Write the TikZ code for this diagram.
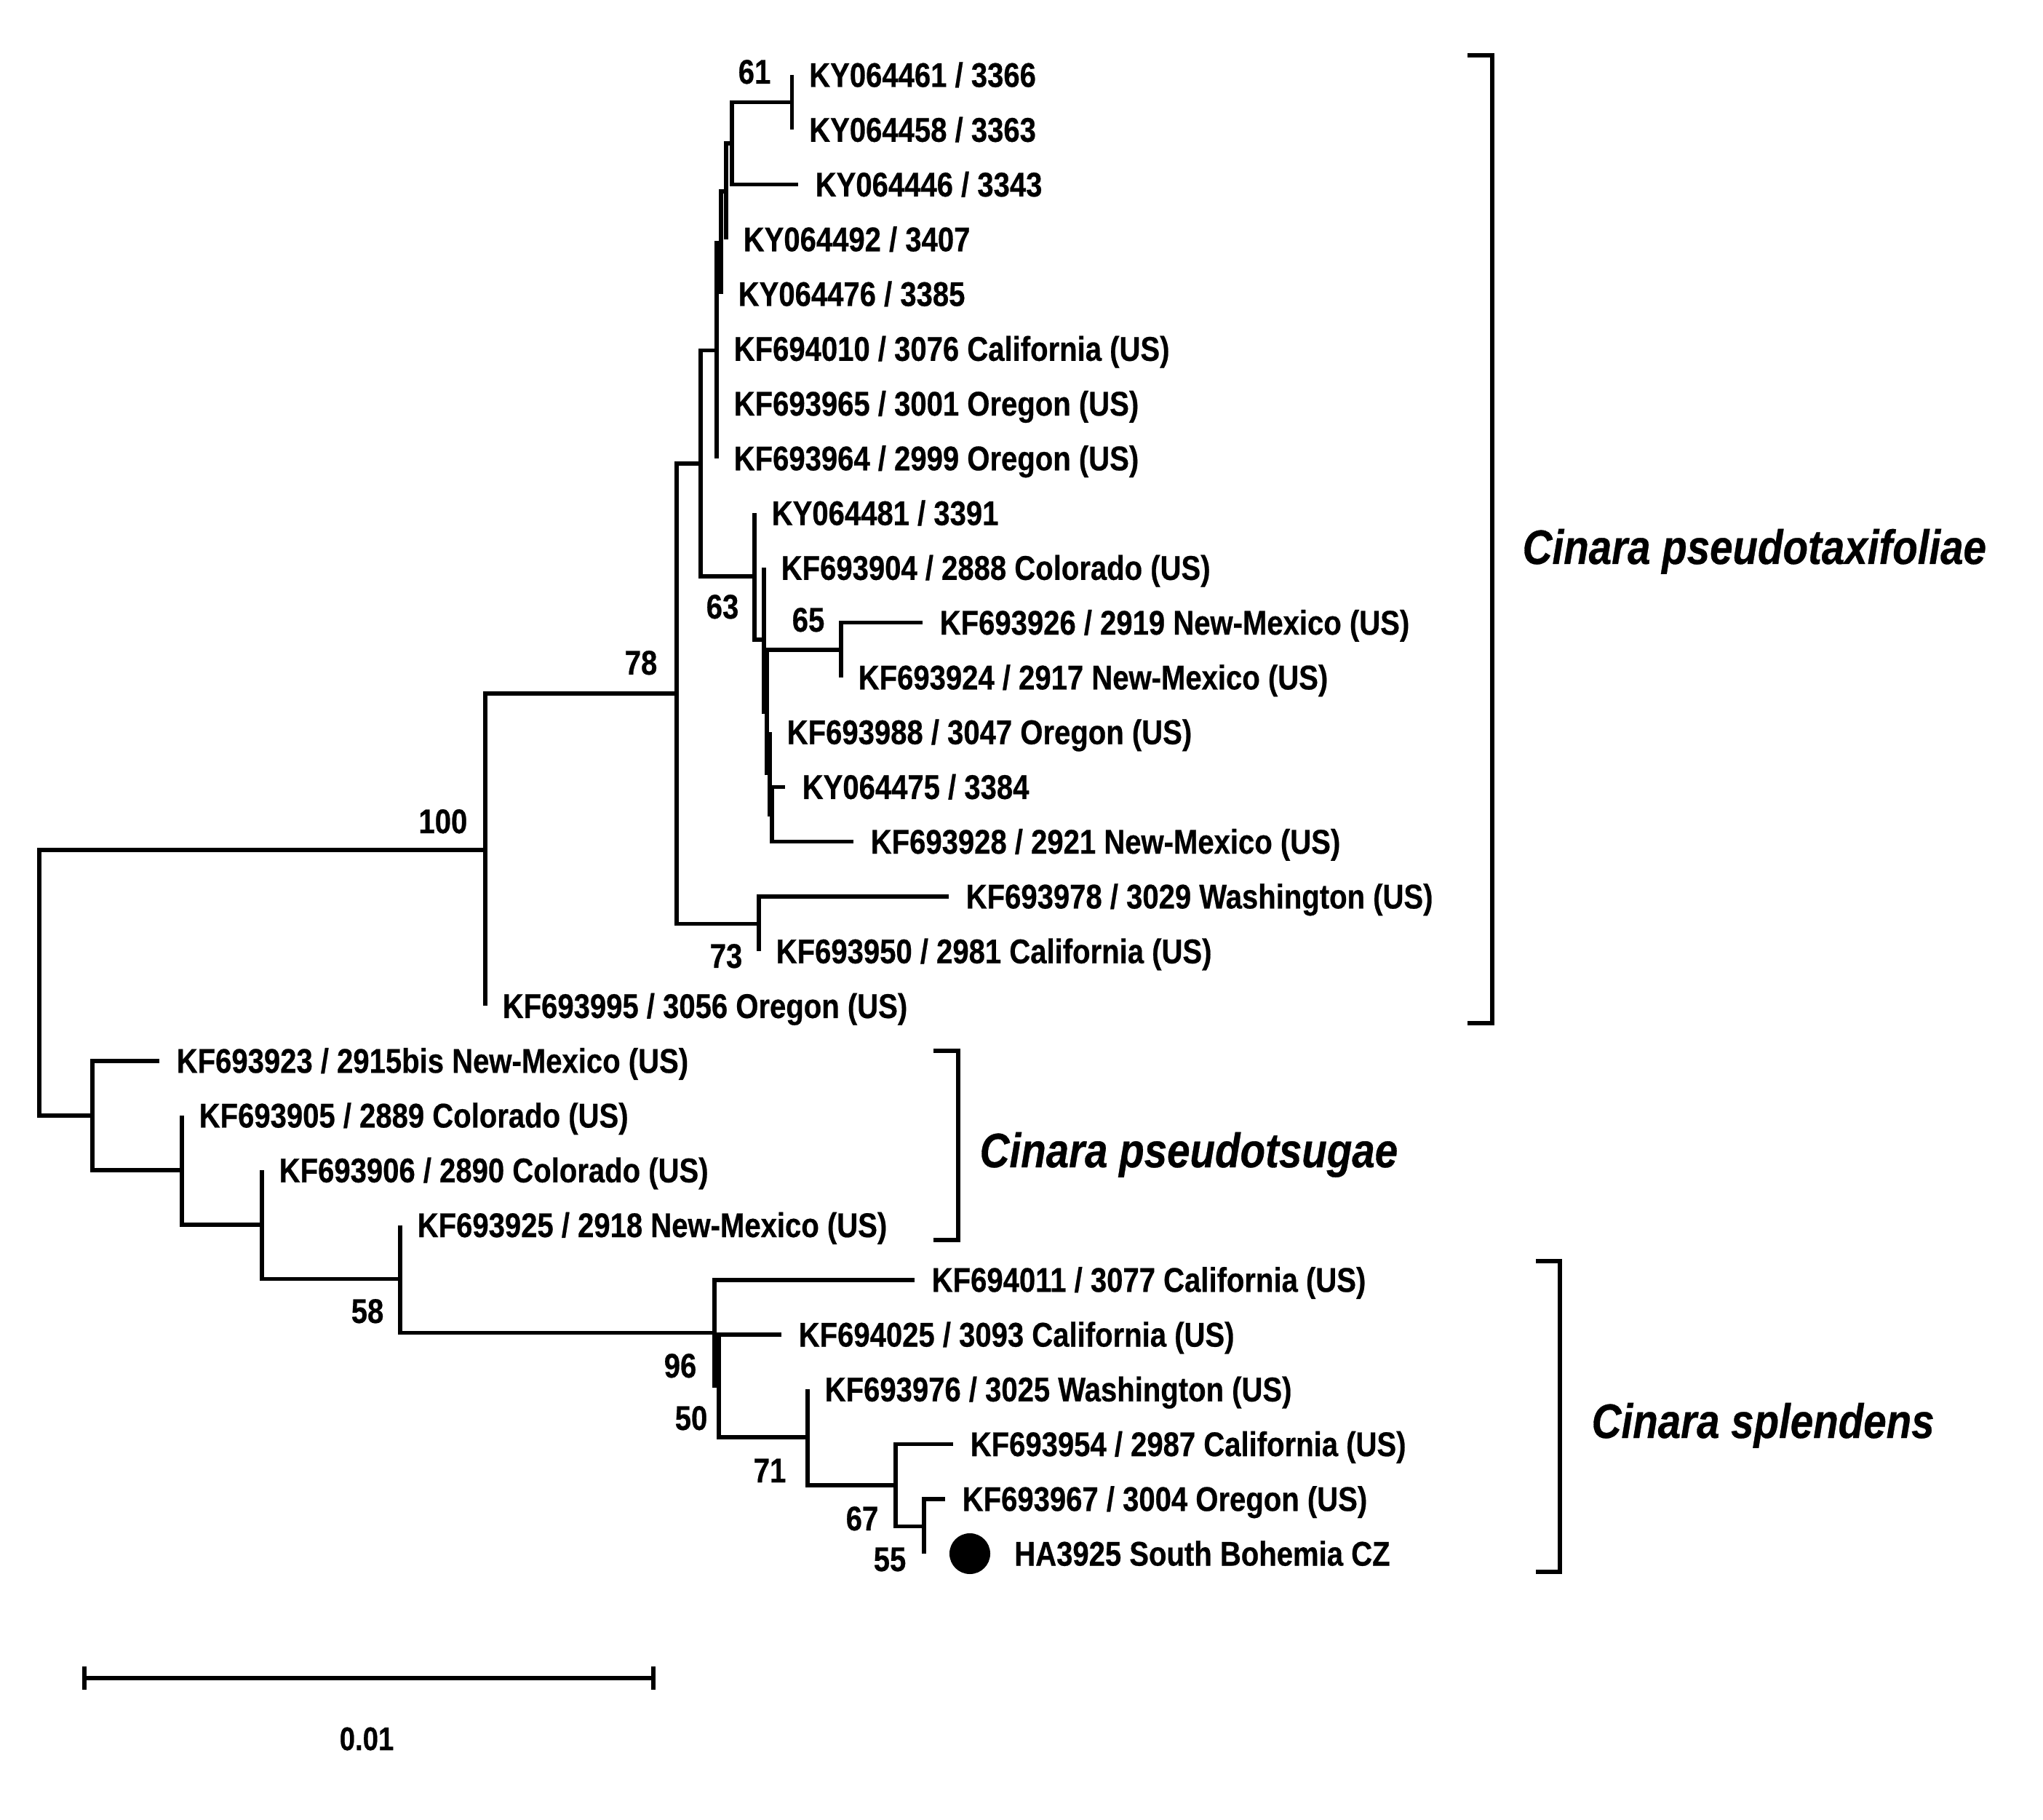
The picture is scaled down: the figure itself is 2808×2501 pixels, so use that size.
\documentclass[tikz,border=0pt]{standalone}
\usepackage{fontspec}
\newfontfamily\labfont{Liberation Sans}[FakeStretch=0.85, BoldFeatures={FakeBold=0.5}, BoldItalicFeatures={FakeBold=0.5}]
\begin{document}
\begin{tikzpicture}[x=0.01cm, y=-0.01cm,
  br/.style={line width=0.056cm, line join=miter},
  brk/.style={line width=0.062cm, line join=miter},
  leaf/.style={anchor=base west, inner sep=0pt, font=\labfont\bfseries\fontsize{13.4}{16}\selectfont},
  bs/.style={anchor=base east, inner sep=0pt, font=\labfont\bfseries\fontsize{13.4}{16}\selectfont},
  clade/.style={anchor=base west, inner sep=0pt, font=\labfont\bfseries\itshape\fontsize{18.9}{22}\selectfont},
  scl/.style={anchor=base, inner sep=0pt, font=\labfont\bfseries\fontsize{12.8}{15}\selectfont},
  dotnode/.style={circle, fill=black, inner sep=0pt, minimum size=0.56cm}]
\fill[white] (0,0) rectangle (2808,2501);
\useasboundingbox (0,0) rectangle (2808,2501);
% tips
\coordinate (t1) at (1088.5,103.0);
\coordinate (t2) at (1088.5,178.3);
\coordinate (t3) at (1097,253.5);
\coordinate (t4) at (998,328.8);
\coordinate (t5) at (991,404.0);
\coordinate (t6) at (985,479.3);
\coordinate (t7) at (985,554.6);
\coordinate (t8) at (985,629.8);
\coordinate (t9) at (1037,705.1);
\coordinate (t10) at (1050,780.3);
\coordinate (t11) at (1268,855.6);
\coordinate (t12) at (1156,930.9);
\coordinate (t13) at (1058,1006.1);
\coordinate (t14) at (1079,1081.4);
\coordinate (t15) at (1173,1156.6);
\coordinate (t16) at (1304,1231.9);
\coordinate (t17) at (1043,1307.2);
\coordinate (t18) at (667,1382.4);
\coordinate (t19) at (219,1457.7);
\coordinate (t20) at (250,1532.9);
\coordinate (t21) at (360,1608.2);
\coordinate (t22) at (550,1683.5);
\coordinate (t23) at (1257,1758.7);
\coordinate (t24) at (1074,1834.0);
\coordinate (t25) at (1110,1909.2);
\coordinate (t26) at (1310,1984.5);
\coordinate (t27) at (1299,2059.8);
\coordinate (t28) at (1270,2135.0);
% internal nodes
\coordinate (n61) at (1088.5,140.65);
\coordinate (nE) at (1006,197.1);
\coordinate (nF) at (998,262.95);
\coordinate (nG) at (991,333.5);
\coordinate (nD) at (985,481.6);
\coordinate (n65) at (1156,893.25);
\coordinate (nK) at (1061,1119.0);
\coordinate (nJ) at (1058,1062.55);
\coordinate (nI2) at (1054,977.9);
\coordinate (nI) at (1050,879.1);
\coordinate (nH) at (1037,792.1);
\coordinate (nC) at (963,636.85);
\coordinate (n73) at (1043,1269.55);
\coordinate (n78) at (930,953.2);
\coordinate (n100) at (667,1167.8);
\coordinate (nS) at (1270,2097.4);
\coordinate (nR) at (1231,2040.95);
\coordinate (nQ) at (1110,1975.1);
\coordinate (nP) at (988,1904.55);
\coordinate (nO) at (982,1831.6);
\coordinate (n58) at (550,1757.6);
\coordinate (nN) at (360,1682.9);
\coordinate (nM) at (250,1607.9);
\coordinate (nL) at (127,1532.8);
\coordinate (root) at (54,1350.3);
% branches
\draw[br] (t1) -| (n61) |- (t2);
\draw[br] (n61) -| (nE) |- (t3);
\draw[br] (nE) -| (nF) |- (t4);
\draw[br] (nF) -| (nG) |- (t5);
\draw[br] (nG) -| (nD) |- (t8);
\draw[br] (t6) -- (nD |- t6);
\draw[br] (t7) -- (nD |- t7);
\draw[br] (nD) -| (nC) |- (nH);
\draw[br] (t9) -| (nH) |- (nI);
\draw[br] (t10) -| (nI) |- (nI2);
\draw[br] (n65) -| (nI2) |- (nJ);
\draw[br] (t11) -| (n65) |- (t12);
\draw[br] (t13) -| (nJ) |- (nK);
\draw[br] (t14) -| (nK) |- (t15);
\draw[br] (nC) -| (n78) |- (n73);
\draw[br] (t16) -| (n73) |- (t17);
\draw[br] (n78) -| (n100) |- (t18);
\draw[br] (n100) -| (root) |- (nL);
\draw[br] (t19) -| (nL) |- (nM);
\draw[br] (t20) -| (nM) |- (nN);
\draw[br] (t21) -| (nN) |- (n58);
\draw[br] (t22) -| (n58) |- (nO);
\draw[br] (t23) -| (nO) |- (nP);
\draw[br] (t24) -| (nP) |- (nQ);
\draw[br] (t25) -| (nQ) |- (nR);
\draw[br] (t26) -| (nR) |- (nS);
\draw[br] (t27) -| (nS) |- (t28);
% leaf labels
\node[leaf] (L1) at ([xshift=0.23cm,yshift=-0.165cm]t1) {KY064461 / 3366};
\node[leaf] (L2) at ([xshift=0.23cm,yshift=-0.165cm]t2) {KY064458 / 3363};
\node[leaf] (L3) at ([xshift=0.23cm,yshift=-0.165cm]t3) {KY064446 / 3343};
\node[leaf] (L4) at ([xshift=0.23cm,yshift=-0.165cm]t4) {KY064492 / 3407};
\node[leaf] (L5) at ([xshift=0.23cm,yshift=-0.165cm]t5) {KY064476 / 3385};
\node[leaf] (L6) at ([xshift=0.23cm,yshift=-0.165cm]t6) {KF694010 / 3076 California (US)};
\node[leaf] (L7) at ([xshift=0.23cm,yshift=-0.165cm]t7) {KF693965 / 3001 Oregon (US)};
\node[leaf] (L8) at ([xshift=0.23cm,yshift=-0.165cm]t8) {KF693964 / 2999 Oregon (US)};
\node[leaf] (L9) at ([xshift=0.23cm,yshift=-0.165cm]t9) {KY064481 / 3391};
\node[leaf] (L10) at ([xshift=0.23cm,yshift=-0.165cm]t10) {KF693904 / 2888 Colorado (US)};
\node[leaf] (L11) at ([xshift=0.23cm,yshift=-0.165cm]t11) {KF693926 / 2919 New-Mexico (US)};
\node[leaf] (L12) at ([xshift=0.23cm,yshift=-0.165cm]t12) {KF693924 / 2917 New-Mexico (US)};
\node[leaf] (L13) at ([xshift=0.23cm,yshift=-0.165cm]t13) {KF693988 / 3047 Oregon (US)};
\node[leaf] (L14) at ([xshift=0.23cm,yshift=-0.165cm]t14) {KY064475 / 3384};
\node[leaf] (L15) at ([xshift=0.23cm,yshift=-0.165cm]t15) {KF693928 / 2921 New-Mexico (US)};
\node[leaf] (L16) at ([xshift=0.23cm,yshift=-0.165cm]t16) {KF693978 / 3029 Washington (US)};
\node[leaf] (L17) at ([xshift=0.23cm,yshift=-0.165cm]t17) {KF693950 / 2981 California (US)};
\node[leaf] (L18) at ([xshift=0.23cm,yshift=-0.165cm]t18) {KF693995 / 3056 Oregon (US)};
\node[leaf] (L19) at ([xshift=0.23cm,yshift=-0.165cm]t19) {KF693923 / 2915bis New-Mexico (US)};
\node[leaf] (L20) at ([xshift=0.23cm,yshift=-0.165cm]t20) {KF693905 / 2889 Colorado (US)};
\node[leaf] (L21) at ([xshift=0.23cm,yshift=-0.165cm]t21) {KF693906 / 2890 Colorado (US)};
\node[leaf] (L22) at ([xshift=0.23cm,yshift=-0.165cm]t22) {KF693925 / 2918 New-Mexico (US)};
\node[leaf] (L23) at ([xshift=0.23cm,yshift=-0.165cm]t23) {KF694011 / 3077 California (US)};
\node[leaf] (L24) at ([xshift=0.23cm,yshift=-0.165cm]t24) {KF694025 / 3093 California (US)};
\node[leaf] (L25) at ([xshift=0.23cm,yshift=-0.165cm]t25) {KF693976 / 3025 Washington (US)};
\node[leaf] (L26) at ([xshift=0.23cm,yshift=-0.165cm]t26) {KF693954 / 2987 California (US)};
\node[leaf] (L27) at ([xshift=0.23cm,yshift=-0.165cm]t27) {KF693967 / 3004 Oregon (US)};
\node[dotnode] (dot) at (1333,2135) {};
\node[leaf] (L28) at ([xshift=1.235cm,yshift=-0.165cm]t28) {HA3925 South Bohemia CZ};
% bootstrap values
\node[bs] (b61) at (1060,115) {61};
\node[bs] (b78) at (904,927) {78};
\node[bs] (b100) at (643,1145) {100};
\node[bs] (b63) at (1016,850) {63};
\node[bs] (b65) at (1134,868) {65};
\node[bs] (b73) at (1021,1330) {73};
\node[bs] (b58) at (528,1818) {58};
\node[bs] (b96) at (958,1893) {96};
\node[bs] (b50) at (973,1965) {50};
\node[bs] (b71) at (1081,2037) {71};
\node[bs] (b67) at (1208,2103) {67};
\node[bs] (b55) at (1246,2159) {55};
% brackets
\coordinate (k1a) at (2017,76);
\coordinate (k1b) at (2051,76);
\coordinate (k1c) at (2051,1406);
\coordinate (k1d) at (2017,1406);
\draw[brk] (k1a) -- (k1b) -- (k1c) -- (k1d);
\coordinate (k2a) at (1283,1444);
\coordinate (k2b) at (1317,1444);
\coordinate (k2c) at (1317,1704);
\coordinate (k2d) at (1283,1704);
\draw[brk] (k2a) -- (k2b) -- (k2c) -- (k2d);
\coordinate (k3a) at (2111,1733);
\coordinate (k3b) at (2144,1733);
\coordinate (k3c) at (2144,2160);
\coordinate (k3d) at (2111,2160);
\draw[brk] (k3a) -- (k3b) -- (k3c) -- (k3d);
\node[clade] (c1) at (2092,775) {Cinara pseudotaxifoliae};
\node[clade] (c2) at (1346,1604) {Cinara pseudotsugae};
\node[clade] (c3) at (2187,1976) {Cinara splendens};
% scale bar
\coordinate (s1) at (116,2306);
\coordinate (s2) at (898,2306);
\draw[line width=0.066cm] (s1) -- (s2);
\draw[line width=0.057cm] ([yshift=0.16cm]s1) -- ([yshift=-0.16cm]s1);
\draw[line width=0.057cm] ([yshift=0.16cm]s2) -- ([yshift=-0.16cm]s2);
\node[scl] (sl) at (504,2405) {0.01};
\end{tikzpicture}
\end{document}
